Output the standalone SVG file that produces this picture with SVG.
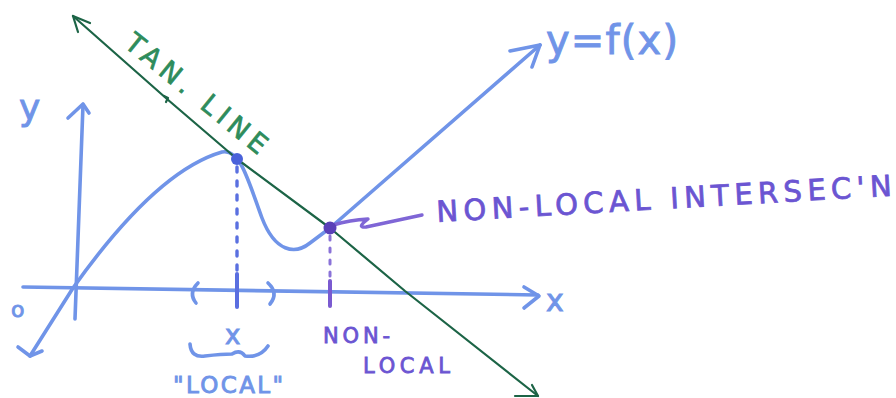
<svg xmlns="http://www.w3.org/2000/svg" width="896" height="398" viewBox="0 0 896 398">
<style>
.blue{fill:none;stroke:#7094e8;stroke-width:3.6;stroke-linecap:round;stroke-linejoin:round}
.green{fill:none;stroke:#1c6446;stroke-width:2.2;stroke-linecap:round;stroke-linejoin:round}
.purple{fill:none;stroke:#7f66d6;stroke-width:3.4;stroke-linecap:round;stroke-linejoin:round}
.tb{font-family:"DejaVu Sans",sans-serif;fill:#7094e8;stroke:#7094e8;stroke-width:0.9}
.tp{font-family:"DejaVu Sans",sans-serif;fill:#6b55d2;stroke:#6b55d2;stroke-width:0.8}
.tg{font-family:"DejaVu Sans",sans-serif;fill:#2e8c5c;stroke:#2e8c5c;stroke-width:0.7}
</style>
<rect width="896" height="398" fill="#ffffff"/>
<g id="axes">
  <path class="blue" d="M23,287 L538,295"/>
  <path class="blue" d="M524,287 L539,296 L524,308"/>
  <path class="blue" d="M75,319 L83,105"/>
  <path class="blue" d="M68,118 L83,104 L89,113"/>
  <path d="M198,283 Q188,293 196,303" class="blue" stroke-width="3"/>
  <path d="M268,283 Q279,293 270,304" class="blue" stroke-width="3"/>
  <line x1="237" y1="274" x2="237" y2="307" stroke="#5a6ee0" stroke-width="4" stroke-linecap="round"/>
  <line x1="330" y1="281" x2="330" y2="306" stroke="#7a5ad0" stroke-width="4" stroke-linecap="round"/>
</g>
<g id="curve">
  <path class="blue" d="M30,356 L73,288 C100,250 160,170 222,152 C240,148 248,180 262,218 C275,252 295,255 310,243 L330,228 L540,45"/>
  <path class="blue" d="M18,347 L30,356 L42,351"/>
  <path class="blue" d="M510,51 L540,45 L532,67"/>
</g>
<g id="tangent-line">
  <path class="green" d="M73,16 L167,99 L237,159 L330,228 L405,291 L538,396"/>
  <path class="green" d="M90,23 L73,16 L78,32"/>
  <path class="green" d="M515,396 L538,396 L532,385"/>
  <path class="green" d="M164,96 L168,98 L166,102" stroke-width="1.6"/>
</g>
<g id="connectors">
  <line x1="237" y1="167" x2="237" y2="288" stroke="#5a70e0" stroke-width="3.4" stroke-dasharray="5 9" stroke-linecap="round"/>
  <line x1="330" y1="236" x2="330" y2="280" stroke="#8a72d8" stroke-width="3" stroke-dasharray="4 8" stroke-linecap="round"/>
  <path class="purple" d="M333,225 Q350,220 368,219 Q356,228 366,227 L422,215"/>
</g>
<g id="tangent-point">
  <circle cx="237" cy="159" r="6" fill="#4a62da"/>
</g>
<g id="intersection-point">
  <circle cx="330" cy="228" r="6.5" fill="#5a40b8"/>
</g>
<g id="labels">
  <text class="tb" x="19" y="120" font-size="36">y</text>
  <text class="tb" x="11" y="317" font-size="22">o</text>
  <text class="tb" x="546" y="311" font-size="30">x</text>
  <text class="tb" x="225" y="344" font-size="26">x</text>
  <path class="blue" stroke-width="2.8" d="M190,344 Q191,358 205,356 Q222,354 232,354 Q240,349 245,356 Q260,358 268,346"/>
  <text class="tb" x="173" y="393" font-size="23" textLength="110" lengthAdjust="spacing">"LOCAL"</text>
  <text class="tb" x="546" y="54" font-size="40" textLength="132" lengthAdjust="spacing">y=f(x)</text>
  <text class="tp" x="323" y="343" font-size="21" textLength="67" lengthAdjust="spacing">NON-</text>
  <text class="tp" x="363" y="373" font-size="21" textLength="87" lengthAdjust="spacing">LOCAL</text>
  <text class="tp" x="437" y="222" font-size="29" textLength="456" lengthAdjust="spacing" transform="rotate(-3.3 437 222)">NON-LOCAL INTERSEC'N</text>
  <text class="tg" x="123" y="46" font-size="27" textLength="174" lengthAdjust="spacing" transform="rotate(39 123 46)">TAN. LINE</text>
</g>
</svg>
